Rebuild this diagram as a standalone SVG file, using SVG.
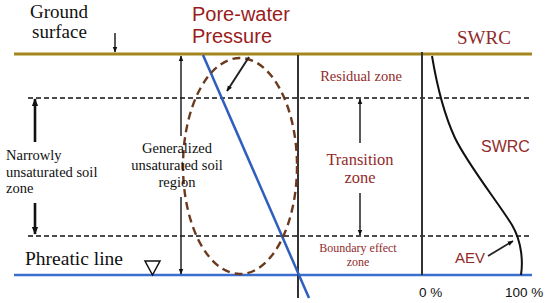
<svg xmlns="http://www.w3.org/2000/svg" width="550" height="303" viewBox="0 0 550 303">
<style>
.serif{font-family:"Liberation Serif","Times New Roman",serif}
.sans{font-family:"Liberation Sans",Arial,sans-serif}
.red{fill:#922B2B}
.blk{fill:#111}
.dash{stroke:#111;stroke-width:1.3;stroke-dasharray:5 3;fill:none}
.vert{stroke:#333;stroke-width:2;fill:none}
.arr{stroke:#222;stroke-width:1.5;fill:none;marker-end:url(#ah)}
.thick{stroke:#111;stroke-width:2.6;fill:none;marker-end:url(#ahb)}
</style>
<defs>
<marker id="ah" viewBox="0 0 10 10" refX="9" refY="5" markerWidth="6" markerHeight="6" orient="auto" markerUnits="userSpaceOnUse">
<path d="M0,1 L10,5 L0,9 Z" fill="#111"/>
</marker>
<marker id="ahb" viewBox="0 0 10 10" refX="9" refY="5" markerWidth="8" markerHeight="8" orient="auto" markerUnits="userSpaceOnUse">
<path d="M0,1 L10,5 L0,9 Z" fill="#111"/>
</marker>
</defs>
<rect width="550" height="303" fill="#fff"/>

<g id="levels">
<line x1="14" y1="54" x2="532" y2="54" stroke="#A4861E" stroke-width="3"/>
<line class="dash" x1="28" y1="98" x2="530" y2="98"/>
<line class="dash" x1="28" y1="236" x2="530" y2="236"/>
<line x1="14" y1="275" x2="532" y2="275" stroke="#3A6FCF" stroke-width="2.5"/>
</g>

<g id="axes">
<line class="vert" x1="298" y1="55" x2="298" y2="298"/>
<line class="vert" x1="422" y1="52" x2="422" y2="275"/>
</g>

<g id="pressure-line">
<line x1="203" y1="55" x2="309" y2="298" stroke="#2E5EBE" stroke-width="2.5"/>
</g>

<g id="unsaturated-ellipse">
<ellipse cx="240" cy="166" rx="57" ry="108" fill="none" stroke="#6B3A1E" stroke-width="2.4" stroke-dasharray="8 5"/>
</g>

<g id="swrc-curve">
<path d="M432,56 C436,80 442,110 455,138 C468,165 500,205 512,225 C522,242 523,262 521,275" fill="none" stroke="#111" stroke-width="2"/>
</g>

<g id="water-table">
<polygon points="145,261 160,261 152.5,275" fill="#fff" stroke="#111" stroke-width="1.5"/>
</g>

<g id="connectors">
<line class="arr" x1="115" y1="33" x2="115" y2="52"/>
<line class="arr" x1="249" y1="57" x2="227" y2="91" style="stroke-width:2"/>
<line class="arr" x1="181" y1="136" x2="181" y2="56"/>
<line class="arr" x1="181" y1="197" x2="181" y2="274"/>
<line class="arr" x1="360" y1="143" x2="360" y2="99"/>
<line class="arr" x1="360" y1="193" x2="360" y2="235"/>
<line class="arr" x1="488" y1="256" x2="513" y2="241" style="stroke-width:1.8"/>
<line class="thick" x1="35" y1="142" x2="35" y2="99"/>
<line class="thick" x1="35" y1="203" x2="35" y2="234"/>
</g>

<g id="labels">
<text class="serif blk" x="30" y="18" font-size="19">Ground</text>
<text class="serif blk" x="32" y="38" font-size="19">surface</text>
<text class="sans" x="192" y="21" font-size="20" fill="#9A1C1C">Pore-water</text>
<text class="sans" x="192" y="43" font-size="20" fill="#9A1C1C">Pressure</text>
<text class="serif red" x="457" y="44" font-size="19">SWRC</text>
<text class="sans red" x="481" y="152" font-size="16">SWRC</text>
<text class="sans red" x="455" y="263" font-size="15">AEV</text>
<text class="sans blk" x="419" y="297" font-size="13.5">0 %</text>
<text class="sans blk" x="505" y="297" font-size="13.5">100 %</text>
<text class="serif red" x="361" y="81" font-size="14.5" text-anchor="middle">Residual zone</text>
<text class="serif red" x="360" y="165" font-size="16.5" text-anchor="middle">Transition</text>
<text class="serif red" x="360" y="183" font-size="16.5" text-anchor="middle">zone</text>
<text class="serif red" x="358" y="252" font-size="12" text-anchor="middle">Boundary effect</text>
<text class="serif red" x="358" y="266" font-size="12" text-anchor="middle">zone</text>
<text class="serif blk" x="6" y="160" font-size="14.5">Narrowly</text>
<text class="serif blk" x="6" y="177" font-size="14.5">unsaturated soil</text>
<text class="serif blk" x="6" y="193" font-size="14.5">zone</text>
<text class="serif blk" x="177" y="153" font-size="14.5" text-anchor="middle">Generalized</text>
<text class="serif blk" x="177" y="170" font-size="14.5" text-anchor="middle">unsaturated soil</text>
<text class="serif blk" x="177" y="187" font-size="14.5" text-anchor="middle">region</text>
<text class="serif blk" x="25" y="265" font-size="19.5">Phreatic line</text>
</g>
</svg>
